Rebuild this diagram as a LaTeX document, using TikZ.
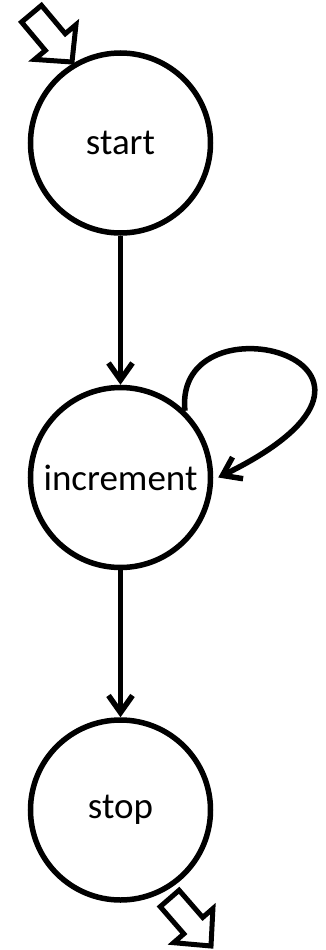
\documentclass[tikz,border=0pt]{standalone}
\usepackage{fontspec}
\setmainfont{Carlito}
\usetikzlibrary{arrows.meta}
\begin{document}
\begin{tikzpicture}[x=1pt,y=-1pt,
  state/.style={circle,draw,line width=5.5pt,minimum size=180pt,inner sep=0pt,
    font=\fontsize{37}{40}\selectfont},
  edge/.style={line width=5.5pt,-{Straight Barb[length=17pt,width=24pt]}},
  blockarrow/.style={draw,line width=5pt,fill=white,line join=miter}]
  \useasboundingbox (0,0) rectangle (325,950);

  % states
  \node[state] (start) at (120.5,143) {start};
  \node[state] (inc)   at (120.5,477.5) {increment};
  \node[state] (stop)  at (120.5,810) {stop};

  % transitions
  \draw[edge] (start) -- (inc);
  \draw[edge] (inc) -- (stop);
  \draw[edge] (inc.46) .. controls +(-12,-120) and +(235,-115) .. ([xshift=5pt]inc.east);

  % initial marker
  \begin{scope}[shift={(72,62)},rotate=-50]
    \draw[blockarrow] (0,0) -- (-26,27) -- (-26,13) -- (-63,13)
      -- (-63,-13) -- (-26,-13) -- (-26,-27) -- cycle;
  \end{scope}
  % final marker
  \begin{scope}[shift={(211,946)},rotate=-49]
    \draw[blockarrow] (0,0) -- (-27,26) -- (-27,12.5) -- (-63,12.5)
      -- (-63,-12.5) -- (-27,-12.5) -- (-27,-26) -- cycle;
  \end{scope}
\end{tikzpicture}
\end{document}
